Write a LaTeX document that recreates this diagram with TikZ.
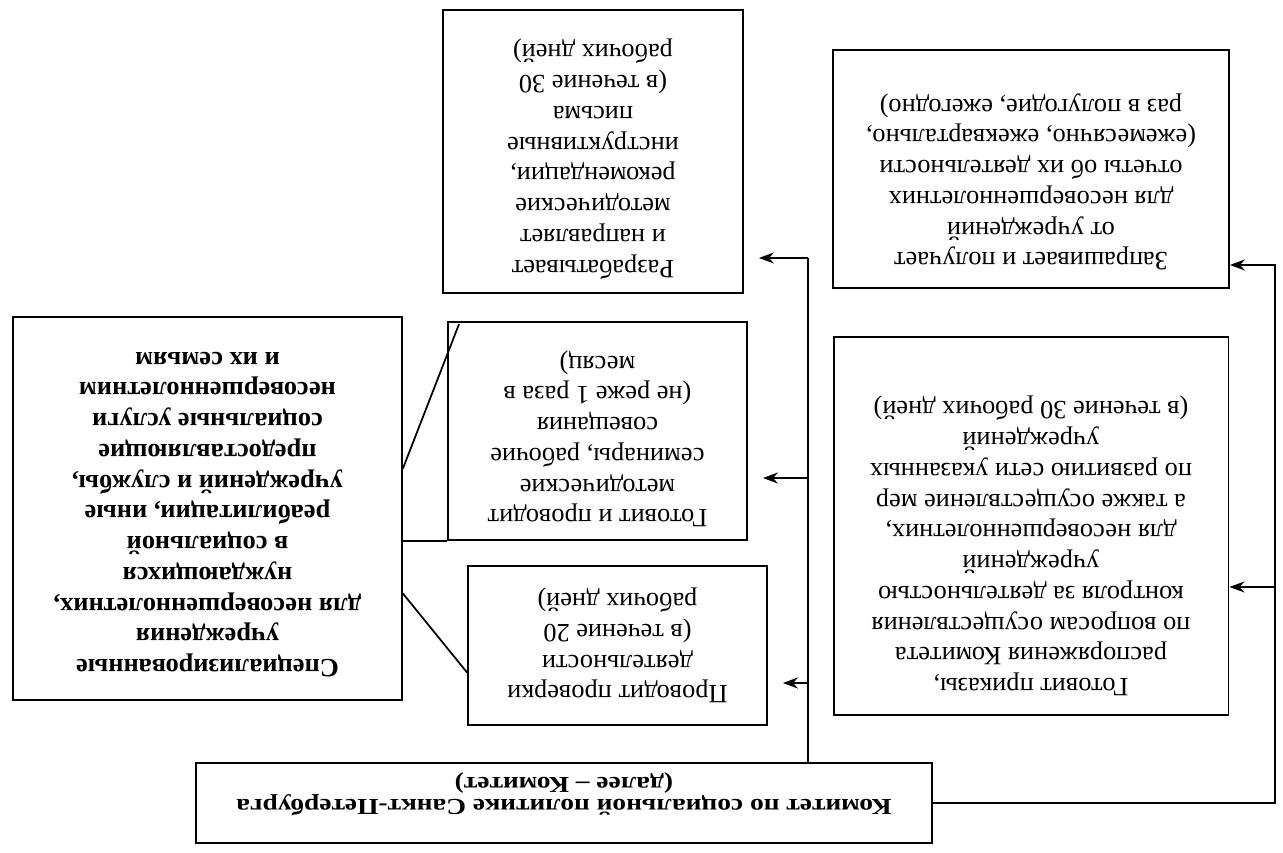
\documentclass[tikz,border=0pt]{standalone}
\usepackage{fontspec}
\setmainfont{Liberation Serif}
\newfontfamily\komfont[FakeStretch=1.2]{Liberation Serif}
\usetikzlibrary{arrows.meta,calc}
\tikzset{box/.style={draw,line width=1.1pt,align=center,fill=white,inner sep=4pt,font=\fontsize{15}{17.5}\selectfont},arr/.style={-{Stealth[length=3mm,width=2.2mm]},line width=1pt},arrgap/.style={arr,shorten >=0.3cm},link/.style={line width=1pt}}

\begin{document}
\begin{tikzpicture}[x=0.02cm,y=-0.02cm]
\begin{scope}[rotate=180,transform shape]
\useasboundingbox (0,0) rectangle (1283,852);
\node[box,font=\komfont\fontsize{13}{12.5}\selectfont\bfseries,text height=32pt,minimum width=14.72cm,minimum height=1.6cm] (kom) at (719,49) {Комитет по социальной политике Санкт-Петербурга\\(далее – Комитет)};
\node[box,text depth=26pt,minimum width=7.9cm,minimum height=7.56cm] (pri) at (252,326) {Готовит приказы,\\распоряжения Комитета\\по вопросам осуществления\\контроля за деятельностью\\учреждений\\для несовершеннолетних,\\а также осуществление мер\\по развитию сети указанных\\учреждений\\(в течение 30 рабочих дней)};
\node[box,text depth=18pt,minimum width=7.92cm,minimum height=4.76cm] (zap) at (252,683) {Запрашивает и получает\\от учреждений\\для несовершеннолетних\\отчеты об их деятельности\\(ежемесячно, ежеквартально,\\раз в полугодие, ежегодно)};
\node[box,minimum width=5.98cm,minimum height=3.18cm] (prov) at (665.5,206.5) {Проводит проверки\\деятельности\\(в течение 20\\рабочих дней)};
\node[box,text depth=12pt,minimum width=5.98cm,minimum height=4.36cm] (got) at (685.5,421) {Готовит и проводит\\методические\\семинары, рабочие\\совещания\\(не реже 1 раза в\\месяц)};
\node[box,text depth=12pt,minimum width=6cm,minimum height=5.66cm] (raz) at (690,700.5) {Разрабатывает\\и направляет\\методические\\рекомендации,\\инструктивные\\письма\\(в течение 30\\рабочих дней)};
\node[box,font=\fontsize{15}{17.5}\selectfont\bfseries,text depth=7pt,minimum width=7.78cm,minimum height=7.66cm] (spec) at (1075.5,343.5) {Специализированные\\учреждения\\для несовершеннолетних,\\нуждающихся\\в социальной\\реабилитации, иные\\учреждений и службы,\\предоставляющие\\социальные услуги\\несовершеннолетним\\и их семьям};
\coordinate (tr) at (475,594); \coordinate (tg) at (475,374); \coordinate (tv) at (475,169);
\draw[link] (kom.south -| tr) -- (tr);
\draw[arrgap] (tr) -- (raz.west |- tr); \draw[arrgap] (tg) -- (got.west |- tg); \draw[arrgap] (tv) -- (prov.west |- tv);
\coordinate (rb) at (8,587); \coordinate (rp) at (8,265);
\draw[arr] (kom.west) -| (rb) -- (zap.west |- rb); \draw[arr] (rp) -- (pri.west |- rp);
\draw[link] (got.north east) -- (got.north east -| spec.west);
\draw[link] ($(spec.west)+(0,40)$) -- ($(got.south east)+(-12,-3)$);
\draw[link] ($(spec.west)+(0,-85)$) -- ($(prov.east)+(0,-27)$);
\end{scope}
\end{tikzpicture}
\end{document}
